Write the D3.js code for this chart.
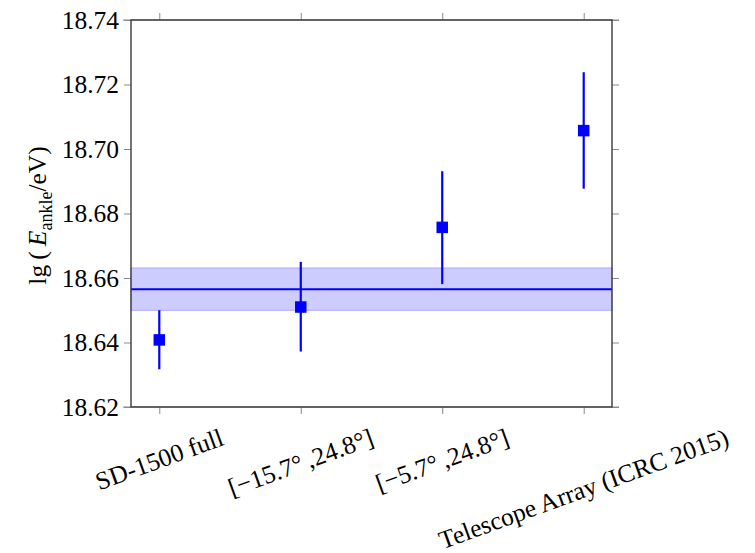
<!DOCTYPE html>
<html>
<head>
<meta charset="utf-8">
<script src="https://cdn.jsdelivr.net/npm/d3@7"></script>
<style>
  html, body { margin: 0; padding: 0; background: #fff; }
  svg { display: block; }
  text { font-family: "Liberation Serif", "DejaVu Serif", serif; fill: #000; }
</style>
</head>
<body>
<svg id="chart" width="755" height="553"></svg>
<script>
// ---- data ----
const categories = ["SD-1500 full", "[\u221215.7\u00b0\u2009,24.8\u00b0]", "[\u22125.7\u00b0\u2009,24.8\u00b0]", "Telescope Array (ICRC 2015)"];
const values = [18.6408, 18.6510, 18.6757, 18.7057];
const errLow = [18.6317, 18.6372, 18.6581, 18.6877];
const errHigh = [18.6500, 18.6650, 18.6931, 18.7238];
const meanValue = 18.6565;
const bandLow = 18.6500;
const bandHigh = 18.6631;
const yTicks = [18.62, 18.64, 18.66, 18.68, 18.70, 18.72, 18.74];

// ---- layout ----
const pLeft = 131, pRight = 612, pTop = 20, pBottom = 407;
const fontSize = 25.5;
const svg = d3.select("#chart");

const x = d3.scaleLinear().domain([-0.2, 3.2]).range([pLeft, pRight]);
const y = d3.scaleLinear().domain([18.62, 18.74]).range([pBottom, pTop]);
const idx = categories.map((d, i) => i);

// band
svg.append("rect")
  .attr("x", pLeft).attr("width", pRight - pLeft)
  .attr("y", y(bandHigh)).attr("height", y(bandLow) - y(bandHigh))
  .attr("fill", "rgb(204,204,255)")
  .attr("stroke", "rgb(170,170,255)").attr("stroke-width", 1);

// mean line
svg.append("line")
  .attr("x1", pLeft).attr("x2", pRight)
  .attr("y1", y(meanValue)).attr("y2", y(meanValue))
  .attr("stroke", "#0000ff").attr("stroke-width", 2);

// axes (gray ticks outward on all sides)
const tickColor = "#8a8a8a";
function styleAxis(g) {
  g.selectAll(".domain").attr("stroke", tickColor).attr("stroke-width", 1);
  g.selectAll(".tick line").attr("stroke", tickColor).attr("stroke-width", 1);
}
const yAxisL = svg.append("g").attr("transform", `translate(${pLeft},0)`)
  .call(d3.axisLeft(y).tickValues(yTicks).tickFormat(d3.format(".2f")).tickSize(7).tickSizeOuter(0).tickPadding(5));
styleAxis(yAxisL);
yAxisL.selectAll(".tick text").style("font-size", fontSize + "px").style("font-family", "Liberation Serif").attr("fill", "#000");
yAxisL.select(".domain").remove();

const yAxisR = svg.append("g").attr("transform", `translate(${pRight},0)`)
  .call(d3.axisRight(y).tickValues(yTicks).tickFormat("").tickSize(7).tickSizeOuter(0));
styleAxis(yAxisR);
yAxisR.select(".domain").remove();

const xAxisB = svg.append("g").attr("transform", `translate(0,${pBottom})`)
  .call(d3.axisBottom(x).tickValues(idx).tickFormat("").tickSize(7).tickSizeOuter(0));
styleAxis(xAxisB);
xAxisB.select(".domain").attr("d", `M${pLeft - 8},0H${pRight + 7}`);

const xAxisT = svg.append("g").attr("transform", `translate(0,${pTop})`)
  .call(d3.axisTop(x).tickValues(idx).tickFormat("").tickSize(7).tickSizeOuter(0));
styleAxis(xAxisT);
xAxisT.select(".domain").attr("d", `M${pLeft - 8},0H${pRight + 7}`);

// frame
svg.append("rect")
  .attr("x", pLeft).attr("y", pTop)
  .attr("width", pRight - pLeft).attr("height", pBottom - pTop)
  .attr("fill", "none").attr("stroke", "#3a3a3a").attr("stroke-width", 1.4);

// error bars
svg.selectAll(".err").data(idx).join("line")
  .attr("class", "err")
  .attr("x1", i => x(i)).attr("x2", i => x(i))
  .attr("y1", i => y(errLow[i])).attr("y2", i => y(errHigh[i]))
  .attr("stroke", "#0000ff").attr("stroke-width", 2.2);

// square markers
const sq = 11.5;
svg.selectAll(".pt").data(idx).join("rect")
  .attr("class", "pt")
  .attr("x", i => x(i) - sq / 2).attr("y", i => y(values[i]) - sq / 2)
  .attr("width", sq).attr("height", sq)
  .attr("fill", "#0000ff");

// rotated x labels: bounding box top at fixed y, centred on tick
const labelTop = 423;
idx.forEach(i => {
  const g = svg.append("g");
  const inner = g.append("g").attr("transform", "rotate(-20)");
  inner.append("text")
    .attr("text-anchor", "middle")
    .style("font-size", fontSize + "px")
    .text(categories[i]);
  const bb = g.node().getBBox();
  const cx = bb.x + bb.width / 2;
  g.attr("transform", `translate(${x(i) - cx},${labelTop - bb.y})`);
});

// y label
const yl = svg.append("text")
  .attr("transform", `translate(46,${(pTop + pBottom) / 2 + 2}) rotate(-90)`)
  .attr("text-anchor", "middle")
  .style("font-size", fontSize + "px");
yl.append("tspan").text("lg\u2009(\u2009");
yl.append("tspan").attr("font-style", "italic").text("E");
yl.append("tspan").attr("dy", 6).style("font-size", "18px").text("ankle");
yl.append("tspan").attr("dy", -6).text("/eV)");
</script>
</body>
</html>
